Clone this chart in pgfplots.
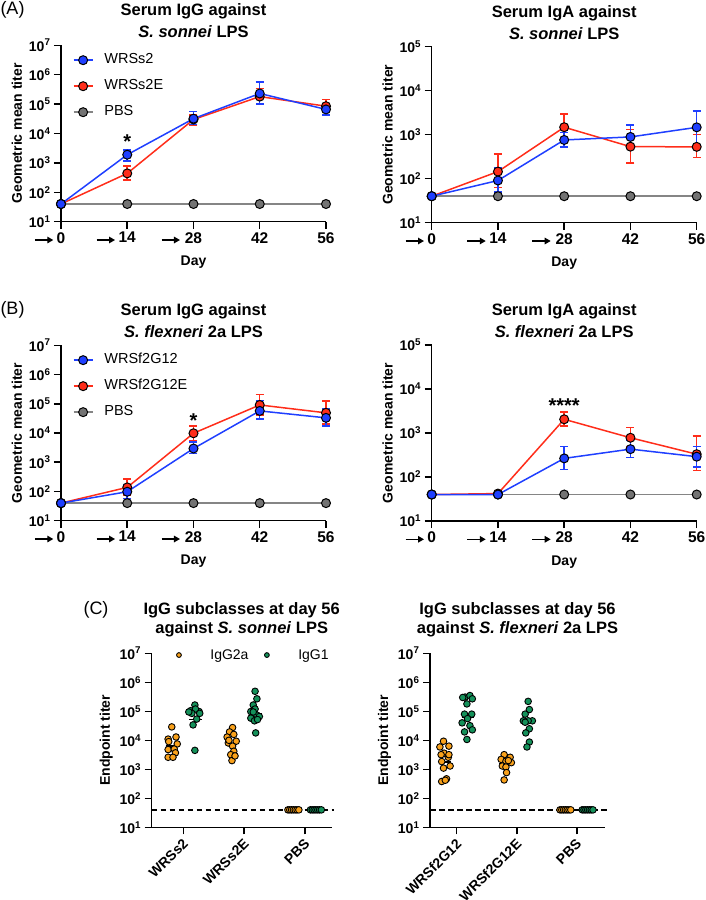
\documentclass[border=0pt]{standalone}
\usepackage{fontspec}
\setmainfont{Liberation Sans}
\usepackage{pgfplots}
\pgfplotsset{compat=1.18}
\usetikzlibrary{arrows.meta}

\definecolor{cblue}{HTML}{1F3FFF}
\definecolor{cred}{HTML}{FF2D1A}
\definecolor{cgrayl}{HTML}{858585}
\definecolor{cgrayf}{HTML}{737373}
\definecolor{corange}{HTML}{F9A11B}
\definecolor{cgreen}{HTML}{14915A}

\newcommand{\ee}[1]{10\textsuperscript{#1}}
\tikzset{
  arw/.style={line width=1.3pt, -{Triangle[length=6pt,width=6.5pt]}},
  leg/.style={color=#1, line width=1.5pt, mark=*, mark size=4.5pt, mark options={fill=#1, draw=black, line width=1pt}},
  lgdot/.style={mark=*, mark size=2.4pt, mark options={fill=#1, draw=black, line width=0.9pt}},
  sdot/.style={mark=*, mark size=3.3pt, mark options={fill=#1, draw=black, line width=0.9pt}},
  meanl/.style={black, line width=1.5pt},
  dashl/.style={black, line width=1.5pt, dash pattern=on 5.5pt off 3.5pt},
}
\newcommand{\tarrows}{%
\draw[arw] ([xshift=-26pt,yshift=-18.3pt]axis cs:0,10) -- ++(18.3pt,0pt);
\draw[arw] ([xshift=-30.5pt,yshift=-18.3pt]axis cs:14,10) -- ++(18.3pt,0pt);
\draw[arw] ([xshift=-31.8pt,yshift=-18.3pt]axis cs:28,10) -- ++(18.3pt,0pt);}

\pgfplotsset{every axis/.append style={
    scale only axis, clip=false,
    axis x line*=bottom, axis y line*=left,
    axis line style={line width=1.5pt, -},
    major tick style={black, line width=1.5pt},
    major tick length=7pt, tick align=outside,
    yminorticks=false,
    yticklabel style={font=\fontsize{14}{16}\selectfont\bfseries},
    xticklabel style={font=\fontsize{15.5}{17}\selectfont\bfseries},
    label style={font=\fontsize{14}{16}\selectfont\bfseries},
    xlabel style={yshift=-6pt},
}}

\begin{document}
\begin{tikzpicture}
\useasboundingbox (0,0) rectangle (705pt,-900pt);

\node[font=\fontsize{18}{20}\selectfont] at (12.5pt,-10pt) {(A)};
\node[font=\fontsize{18}{20}\selectfont] at (12.5pt,-310pt) {(B)};
\node[font=\fontsize{18}{20}\selectfont] at (96pt,-610pt) {(C)};

% ===== A left =====
\begin{axis}[ymode=log, width=265pt, height=176.4pt, at={(61pt,-221.7pt)}, anchor=south west,
  xmin=0, xmax=56, ymin=10, ymax=1e7,
  xtick={0,14,28,42,56}, xticklabels={0,14,28,42,56},
  ytick={1e1,1e2,1e3,1e4,1e5,1e6,1e7}, yticklabels={\ee1,\ee2,\ee3,\ee4,\ee5,\ee6,\ee7},
  xlabel={Day}, ylabel={Geometric mean titer},
  title={Serum IgG against\\\textit{S. sonnei} LPS},
  title style={font=\fontsize{16.5}{22}\selectfont\bfseries, align=center, at={(0.5,1)}, anchor=south, inner sep=0pt, yshift=1pt},
  legend image code/.code={\draw[mark repeat=2,mark phase=2,#1] plot coordinates {(0pt,0pt) (9.5pt,0pt) (19pt,0pt)};},
  legend style={draw=none, fill=none, at={(0.044,0.955)}, anchor=north west,
    font=\fontsize{14.5}{16}\selectfont, nodes={inner sep=0pt, text height=10.5pt, text depth=3pt},
    row sep=12.5pt, column sep=11pt, inner sep=0pt},
  legend cell align=left]
\addlegendimage{leg=cblue}\addlegendentry{WRSs2}
\addlegendimage{leg=cred}\addlegendentry{WRSs2E}
\addlegendimage{leg=cgrayf, color=cgrayl}\addlegendentry{PBS}
\addplot[leg=cgrayf, color=cgrayl, forget plot] coordinates {(0,40) (14,40) (28,40) (42,40) (56,40)};
\addplot[leg=cred, forget plot, error bars/.cd, y dir=both, y explicit, error bar style={line width=1.5pt, cred}, error mark options={rotate=90, line width=1.5pt, mark size=4pt, cred}]
  table[x=x, y=y, y error plus expr=\thisrow{hi}-\thisrow{y}, y error minus expr=\thisrow{y}-\thisrow{lo}] {
x y hi lo
0 40 40 40
14 440 800 260
28 30000 43000 19000
42 180000 340000 105000
56 85000 145000 55000
};
\addplot[leg=cblue, forget plot, error bars/.cd, y dir=both, y explicit, error bar style={line width=1.5pt, cblue}, error mark options={rotate=90, line width=1.5pt, mark size=4pt, cblue}]
  table[x=x, y=y, y error plus expr=\thisrow{hi}-\thisrow{y}, y error minus expr=\thisrow{y}-\thisrow{lo}] {
x y hi lo
0 40 40 40
14 1900 2750 1170
28 32000 55000 20000
42 230000 570000 100000
56 66000 105000 43000
};
\node[font=\fontsize{20}{20}\selectfont\bfseries] at (axis cs:14,5100) {*};
\tarrows
\end{axis}

% ===== A right =====
\begin{axis}[ymode=log, width=265pt, height=176pt, at={(431.7pt,-222.7pt)}, anchor=south west,
  xmin=0, xmax=56, ymin=10, ymax=1e5,
  xtick={0,14,28,42,56}, xticklabels={0,14,28,42,56},
  ytick={1e1,1e2,1e3,1e4,1e5}, yticklabels={\ee1,\ee2,\ee3,\ee4,\ee5},
  xlabel={Day}, ylabel={Geometric mean titer},
  title={Serum IgA against\\\textit{S. sonnei} LPS},
  title style={font=\fontsize{16.5}{22}\selectfont\bfseries, align=center, at={(0.5,1)}, anchor=south, inner sep=0pt, yshift=1pt}]
\addplot[leg=cgrayf, color=cgrayl, forget plot] coordinates {(0,40) (14,40) (28,40) (42,40) (56,40)};
\addplot[leg=cred, forget plot, error bars/.cd, y dir=both, y explicit, error bar style={line width=1.5pt, cred}, error mark options={rotate=90, line width=1.5pt, mark size=4pt, cred}]
  table[x=x, y=y, y error plus expr=\thisrow{hi}-\thisrow{y}, y error minus expr=\thisrow{y}-\thisrow{lo}] {
x y hi lo
0 40 40 40
14 145 360 63
28 1480 2950 760
42 535 1300 230
56 530 1000 300
};
\addplot[leg=cblue, forget plot, error bars/.cd, y dir=both, y explicit, error bar style={line width=1.5pt, cblue}, error mark options={rotate=90, line width=1.5pt, mark size=4pt, cblue}]
  table[x=x, y=y, y error plus expr=\thisrow{hi}-\thisrow{y}, y error minus expr=\thisrow{y}-\thisrow{lo}] {
x y hi lo
0 40 40 40
14 91 180 50
28 760 1120 530
42 890 1660 490
56 1470 3500 590
};
\tarrows
\end{axis}

% ===== B left =====
\begin{axis}[ymode=log, width=265pt, height=175.4pt, at={(61pt,-520.7pt)}, anchor=south west,
  xmin=0, xmax=56, ymin=10, ymax=1e7,
  xtick={0,14,28,42,56}, xticklabels={0,14,28,42,56},
  ytick={1e1,1e2,1e3,1e4,1e5,1e6,1e7}, yticklabels={\ee1,\ee2,\ee3,\ee4,\ee5,\ee6,\ee7},
  xlabel={Day}, ylabel={Geometric mean titer},
  title={Serum IgG against\\\textit{S. flexneri} 2a LPS},
  title style={font=\fontsize{16.5}{22}\selectfont\bfseries, align=center, at={(0.5,1)}, anchor=south, inner sep=0pt, yshift=1pt},
  legend image code/.code={\draw[mark repeat=2,mark phase=2,#1] plot coordinates {(0pt,0pt) (9.5pt,0pt) (19pt,0pt)};},
  legend style={draw=none, fill=none, at={(0.044,0.955)}, anchor=north west,
    font=\fontsize{14.5}{16}\selectfont, nodes={inner sep=0pt, text height=10.5pt, text depth=3pt},
    row sep=12.5pt, column sep=11pt, inner sep=0pt},
  legend cell align=left]
\addlegendimage{leg=cblue}\addlegendentry{WRSf2G12}
\addlegendimage{leg=cred}\addlegendentry{WRSf2G12E}
\addlegendimage{leg=cgrayf, color=cgrayl}\addlegendentry{PBS}
\addplot[leg=cgrayf, color=cgrayl, forget plot] coordinates {(0,40) (14,40) (28,40) (42,40) (56,40)};
\addplot[leg=cred, forget plot, error bars/.cd, y dir=both, y explicit, error bar style={line width=1.5pt, cred}, error mark options={rotate=90, line width=1.5pt, mark size=4pt, cred}]
  table[x=x, y=y, y error plus expr=\thisrow{hi}-\thisrow{y}, y error minus expr=\thisrow{y}-\thisrow{lo}] {
x y hi lo
0 40 40 40
14 138 270 75
28 9800 17500 5500
42 91000 210000 41000
56 49000 123000 20500
};
\addplot[leg=cblue, forget plot, error bars/.cd, y dir=both, y explicit, error bar style={line width=1.5pt, cblue}, error mark options={rotate=90, line width=1.5pt, mark size=4pt, cblue}]
  table[x=x, y=y, y error plus expr=\thisrow{hi}-\thisrow{y}, y error minus expr=\thisrow{y}-\thisrow{lo}] {
x y hi lo
0 40 40 40
14 98 165 58
28 2950 5000 2000
42 57000 130000 30000
56 33000 69000 17500
};
\node[font=\fontsize{20}{20}\selectfont\bfseries] at (axis cs:28,26000) {*};
\tarrows
\end{axis}

% ===== B right =====
\begin{axis}[ymode=log, width=265pt, height=176pt, at={(431.7pt,-521pt)}, anchor=south west,
  xmin=0, xmax=56, ymin=10, ymax=1e5,
  xtick={0,14,28,42,56}, xticklabels={0,14,28,42,56},
  ytick={1e1,1e2,1e3,1e4,1e5}, yticklabels={\ee1,\ee2,\ee3,\ee4,\ee5},
  xlabel={Day}, ylabel={Geometric mean titer},
  title={Serum IgA against\\\textit{S. flexneri} 2a LPS},
  title style={font=\fontsize{16.5}{22}\selectfont\bfseries, align=center, at={(0.5,1)}, anchor=south, inner sep=0pt, yshift=1pt}]
\addplot[leg=cgrayf, color=cgrayl, forget plot] coordinates {(0,40) (14,40) (28,40) (42,40) (56,40)};
\addplot[leg=cred, forget plot, error bars/.cd, y dir=both, y explicit, error bar style={line width=1.5pt, cred}, error mark options={rotate=90, line width=1.5pt, mark size=4pt, cred}]
  table[x=x, y=y, y error plus expr=\thisrow{hi}-\thisrow{y}, y error minus expr=\thisrow{y}-\thisrow{lo}] {
x y hi lo
0 40 40 40
14 42 44 40
28 2050 3000 1450
42 780 1320 480
56 330 850 140
};
\addplot[leg=cblue, forget plot, error bars/.cd, y dir=both, y explicit, error bar style={line width=1.5pt, cblue}, error mark options={rotate=90, line width=1.5pt, mark size=4pt, cblue}]
  table[x=x, y=y, y error plus expr=\thisrow{hi}-\thisrow{y}, y error minus expr=\thisrow{y}-\thisrow{lo}] {
x y hi lo
0 40 40 40
14 40 42 38
28 265 500 150
42 430 690 280
56 290 490 170
};
\node[font=\fontsize{20}{20}\selectfont\bfseries] at (axis cs:28,4100) {****};
\tarrows
\end{axis}

% ===== C left =====
\begin{axis}[ymode=log, width=180pt, height=174pt, at={(151.7pt,-827.3pt)}, anchor=south west,
  xmin=-0.52, xmax=2.44, ymin=10, ymax=1e7,
  xtick={0,1,2}, xticklabels={WRSs2,WRSs2E,PBS},
  xticklabel style={rotate=45, anchor=north east, yshift=2pt, font=\fontsize{14}{16}\selectfont\bfseries},
  ytick={1e1,1e2,1e3,1e4,1e5,1e6,1e7}, yticklabels={\ee1,\ee2,\ee3,\ee4,\ee5,\ee6,\ee7},
  ylabel={Endpoint titer},
  title={IgG subclasses at day 56\\against \textit{S. sonnei} LPS},
  title style={font=\fontsize{16.5}{19.5}\selectfont\bfseries, align=center, at={(0.5,1)}, anchor=south, inner sep=0pt, yshift=10pt},
  legend image code/.code={\draw[#1] plot coordinates {(0pt,0pt)};},
  legend style={draw=none, fill=none, at={(0.137,0.99)}, anchor=west, legend columns=2,
    font=\fontsize{14}{16}\selectfont, nodes={inner sep=0pt, text height=10pt, text depth=2pt},
    /tikz/every odd column/.append style={column sep=15pt},
    /tikz/every even column/.append style={column sep=16pt}, inner sep=0pt}]
\addlegendimage{only marks, lgdot=corange}\addlegendentry{\hspace{14pt}IgG2a}
\addlegendimage{only marks, lgdot=cgreen}\addlegendentry{\hspace{14pt}IgG1}
\addplot[dashl, forget plot] coordinates {(-0.52,40) (2.47,40)};
\addplot[only marks, sdot=corange, forget plot] table {
x y
-0.19 29000
-0.25 11000
-0.12 13000
-0.10 7500
-0.25 4800
-0.15 5000
-0.13 3700
-0.25 2600
-0.17 2600
-0.24 9000
0.81 27500
0.76 19500
0.83 16000
0.72 13000
0.87 9300
0.74 8100
0.81 6300
0.83 4200
0.78 3200
0.80 2000
0.75 10000
0.85 2900
1.72 40
1.75 40
1.78 40
1.81 40
1.84 40
1.87 40
1.90 40
};
\addplot[only marks, sdot=cgreen, forget plot] table {
x y
0.19 165000
0.12 105000
0.26 98000
0.20 120000
0.14 85000
0.22 54000
0.16 34000
0.19 4500
0.27 85000
0.09 95000
1.18 490000
1.21 270000
1.15 165000
1.18 120000
1.11 98000
1.21 74000
1.11 58000
1.25 66000
1.17 47000
1.22 52000
1.19 18000
1.15 95000
2.09 40
2.12 40
2.15 40
2.18 40
2.21 40
2.24 40
2.27 40
};
\addplot[meanl, forget plot] coordinates {(-0.29,6300) (-0.08,6300)};
\addplot[meanl, forget plot] coordinates {(0.09,52000) (0.30,52000)};
\addplot[meanl, forget plot] coordinates {(0.71,7900) (0.92,7900)};
\addplot[meanl, forget plot] coordinates {(1.08,85000) (1.29,85000)};
\end{axis}

% ===== C right =====
\begin{axis}[ymode=log, width=175pt, height=174pt, at={(430pt,-827.3pt)}, anchor=south west,
  xmin=-0.445, xmax=2.47, ymin=10, ymax=1e7,
  xtick={0,1,2}, xticklabels={WRSf2G12,WRSf2G12E,PBS},
  xticklabel style={rotate=45, anchor=north east, yshift=2pt, font=\fontsize{14}{16}\selectfont\bfseries},
  ytick={1e1,1e2,1e3,1e4,1e5,1e6,1e7}, yticklabels={\ee1,\ee2,\ee3,\ee4,\ee5,\ee6,\ee7},
  ylabel={Endpoint titer},
  title={IgG subclasses at day 56\\against \textit{S. flexneri} 2a LPS},
  title style={font=\fontsize{16.5}{19.5}\selectfont\bfseries, align=center, at={(0.5,1)}, anchor=south, inner sep=0pt, yshift=10pt}]
\addplot[dashl, forget plot] coordinates {(-0.445,40) (2.5,40)};
\addplot[only marks, sdot=corange, forget plot] table {
x y
-0.22 9300
-0.28 5900
-0.13 6300
-0.21 3600
-0.14 2600
-0.25 1850
-0.11 1300
-0.22 1100
-0.17 470
-0.25 380
-0.19 420
-0.26 3200
-0.13 3200
0.79 3200
0.89 2600
0.74 2200
0.82 1900
0.91 1700
0.76 1300
0.82 1200
0.83 770
0.79 430
0.86 2000
1.72 40
1.75 40
1.78 40
1.81 40
1.84 40
1.87 40
1.90 40
};
\addplot[only marks, sdot=cgreen, forget plot] table {
x y
0.14 310000
0.22 350000
0.26 270000
0.17 180000
0.13 80000
0.25 80000
0.18 56000
0.09 40000
0.22 32000
0.13 19500
0.26 23000
0.17 10700
0.10 300000
1.19 220000
1.21 115000
1.14 80000
1.11 47000
1.26 47000
1.19 47000
1.21 25000
1.15 18000
1.21 8700
1.17 5900
1.14 42000
2.09 40
2.12 40
2.15 40
2.18 40
2.21 40
2.24 40
2.27 40
};
\addplot[meanl, forget plot] coordinates {(-0.30,1800) (-0.09,1800)};
\addplot[meanl, forget plot] coordinates {(0.08,62000) (0.29,62000)};
\addplot[meanl, forget plot] coordinates {(0.71,1600) (0.92,1600)};
\addplot[meanl, forget plot] coordinates {(1.08,44000) (1.29,44000)};
\end{axis}
\end{tikzpicture}
\end{document}
